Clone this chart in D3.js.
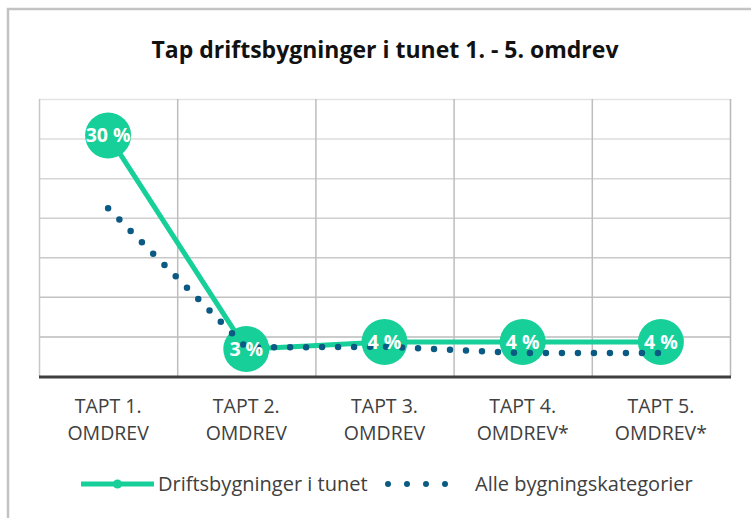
<!DOCTYPE html>
<html>
<head>
<meta charset="utf-8">
<script src="https://cdn.jsdelivr.net/npm/d3@7"></script>
<style>
  body { margin: 0; background: #fff; }
  svg text { font-family: "Open Sans", Lato, sans-serif; }
</style>
</head>
<body>
<div class="chart"></div>
<script>
var categories = ["TAPT 1.\nOMDREV", "TAPT 2.\nOMDREV", "TAPT 3.\nOMDREV", "TAPT 4.\nOMDREV*", "TAPT 5.\nOMDREV*"];
var driftValues = [30.4, 3.4, 4.3, 4.3, 4.3];
var driftLabels = ["30 %", "3 %", "4 %", "4 %", "4 %"];
var alleValues = [21.2, 3.6, 3.7, 2.9, 2.9];
var yTicks = [0, 5, 10, 15, 20, 25, 30, 35];
var seriesNames = ["Driftsbygninger i tunet", "Alle bygningskategorier"];
var title = "Tap driftsbygninger i tunet 1. - 5. omdrev";

var green = "#17cf98", blue = "#0b5a83";

var width = 751, height = 518;
var margin = {top: 99, right: 21, bottom: 142, left: 39};
var w = width - margin.left - margin.right;
var h = height - margin.top - margin.bottom;

var svg = d3.select(".chart").append("svg")
	.attr("width", width)
	.attr("height", height);

// outer chart frame (runs off the page right/bottom)
svg.append("rect")
	.attr("x", 8).attr("y", 9)
	.attr("width", 800).attr("height", 600)
	.attr("fill", "none")
	.attr("stroke", "#c3c3c3")
	.attr("stroke-width", 2.5);

svg.append("text")
	.attr("x", 385).attr("y", 58)
	.attr("text-anchor", "middle")
	.style("font-size", "23px")
	.style("font-weight", "bold")
	.attr("fill", "#111")
	.text(title);

var x = d3.scaleBand().domain(categories).range([0, w]);
var y = d3.scaleLinear().domain([0, 35]).range([h, 0]);
var cx = d => x(d) + x.bandwidth() / 2;

var g = svg.append("g").attr("transform", "translate(" + margin.left + "," + margin.top + ")");

// horizontal gridlines, a bit darker towards the bottom
var gridCol = d3.scaleLinear().domain([35, 0]).range(["#e4e4e4", "#b4b4b4"]);
g.selectAll("line.hgrid").data(yTicks.slice(1)).enter().append("line")
	.attr("class", "hgrid")
	.attr("x1", 0).attr("x2", w)
	.attr("y1", d => y(d) + 0.5).attr("y2", d => y(d) + 0.5)
	.attr("stroke", d => gridCol(d))
	.attr("stroke-width", 1.5);

// vertical gridlines at category boundaries
var bounds = categories.map(d => x(d)).concat([w]);
g.selectAll("line.vgrid").data(bounds).enter().append("line")
	.attr("class", "vgrid")
	.attr("x1", d => d + 0.5).attr("x2", d => d + 0.5)
	.attr("y1", 0).attr("y2", h)
	.attr("stroke", (d, i) => i == 0 ? "#c8c8c8" : i == bounds.length - 1 ? "#b8b8b8" : "#bdbdbd")
	.attr("stroke-width", 1.5);

// bottom axis line
g.append("line")
	.attr("x1", 0).attr("x2", w + 1)
	.attr("y1", h + 1).attr("y2", h + 1)
	.attr("stroke", "#3f3f3f")
	.attr("stroke-width", 3);

// category labels
var xl = g.selectAll("text.xlab").data(categories).enter().append("text")
	.attr("class", "xlab")
	.attr("text-anchor", "middle")
	.attr("fill", "#404040")
	.style("font-size", "19.5px")
	.attr("transform", d => "translate(" + cx(d) + "," + (h + 37) + ")");
xl.selectAll("tspan").data(d => d.split("\n")).enter().append("tspan")
	.attr("x", 0)
	.attr("dy", (d, i) => i == 0 ? 0 : 27)
	.text(d => d);

// series
var driftData = categories.map((c, i) => ({c: c, v: driftValues[i], label: driftLabels[i]}));
var alleData = categories.map((c, i) => ({c: c, v: alleValues[i]}));

var line = d3.line().x(d => cx(d.c)).y(d => y(d.v));

g.append("path")
	.datum(driftData)
	.attr("d", line)
	.attr("fill", "none")
	.attr("stroke", green)
	.attr("stroke-width", 5);

g.selectAll("circle.mark").data(driftData).enter().append("circle")
	.attr("class", "mark")
	.attr("cx", d => cx(d.c))
	.attr("cy", d => y(d.v))
	.attr("r", 23)
	.attr("fill", green);

g.append("path")
	.datum(alleData)
	.attr("d", line)
	.attr("fill", "none")
	.attr("stroke", blue)
	.attr("stroke-width", 6.5)
	.attr("stroke-linecap", "round")
	.attr("stroke-dasharray", "0 16");

g.selectAll("text.dlab").data(driftData).enter().append("text")
	.attr("class", "dlab")
	.attr("x", d => cx(d.c))
	.attr("y", d => y(d.v) + 7)
	.attr("text-anchor", "middle")
	.attr("fill", "#fff")
	.style("font-size", "19.5px")
	.style("font-weight", "bold")
	.text(d => d.label);

// legend
var leg = svg.append("g").attr("transform", "translate(0,484)");
leg.append("line")
	.attr("x1", 81).attr("x2", 154)
	.attr("stroke", green).attr("stroke-width", 5);
leg.append("circle")
	.attr("cx", 117.5).attr("r", 4.5)
	.attr("fill", green);
leg.append("text")
	.attr("x", 158).attr("y", 7)
	.attr("fill", "#404040")
	.style("font-size", "20px")
	.text(seriesNames[0]);
leg.append("line")
	.attr("x1", 388).attr("x2", 464)
	.attr("stroke", blue).attr("stroke-width", 6)
	.attr("stroke-linecap", "round")
	.attr("stroke-dasharray", "0 19");
leg.append("text")
	.attr("x", 475).attr("y", 7)
	.attr("fill", "#404040")
	.style("font-size", "20px")
	.text(seriesNames[1]);
</script>
</body>
</html>
